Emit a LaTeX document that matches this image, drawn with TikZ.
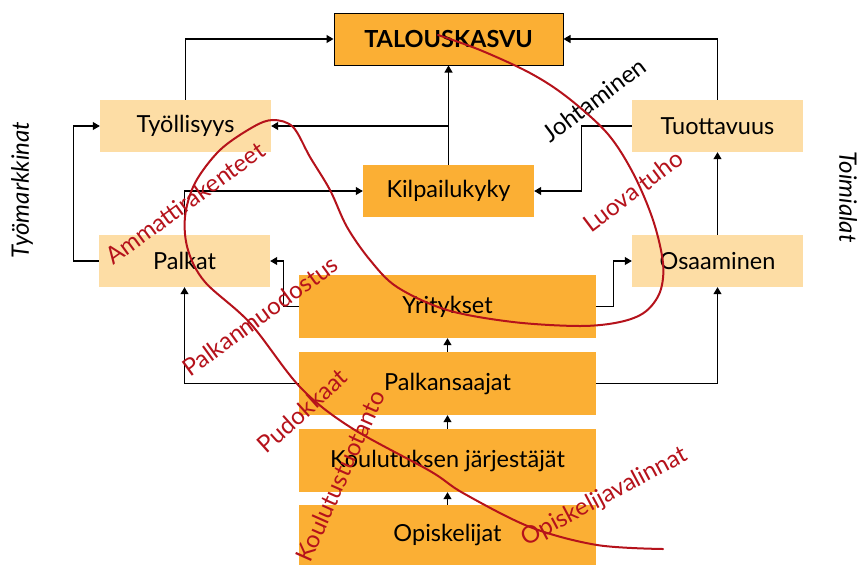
\documentclass[tikz,border=0pt]{standalone}
\usepackage{fontspec}
\setmainfont{Lato}
\usetikzlibrary{arrows.meta}
\definecolor{orng}{HTML}{FBAF34}
\definecolor{lite}{HTML}{FDDDA5}
\definecolor{dred}{HTML}{B5121B}
\tikzset{
  boxbase/.style={inner sep=0pt, anchor=center, font=\fontsize{23.5}{27}\selectfont, text=black},
  lightbox/.style={boxbase, fill=lite, minimum width=171pt, minimum height=52pt},
  darkbox/.style={boxbase, fill=orng, minimum width=171pt, minimum height=52pt},
  widebox/.style={boxbase, fill=orng, minimum width=297pt, minimum height=63pt},
  arr/.style={draw=black, line width=1.1pt, -{Triangle[width=8pt,length=7pt]}},
  redlab/.style={text=dred, font=\fontsize{24}{28}\selectfont, inner sep=0pt, anchor=center},
  sidelab/.style={text=black, font=\itshape\fontsize{24}{28}\selectfont, inner sep=0pt, anchor=center}
}
\begin{document}
\begin{tikzpicture}[x=1pt,y=-1pt]
\useasboundingbox (0,0) rectangle (861,565);
% boxes
\node[boxbase, fill=orng, draw=black, line width=1pt, minimum width=229pt, minimum height=52pt, font=\bfseries\fontsize{23.5}{27}\selectfont] (tk) at (448.5,39) {TALOUSKASVU};
\node[lightbox] (ty) at (185.5,126) {Työllisyys};
\node[darkbox] (kil) at (448.5,191) {Kilpailukyky};
\node[lightbox] (tuo) at (717.5,126) {Tuottavuus};
\node[lightbox] (pal) at (184.5,261) {Palkat};
\node[lightbox] (osa) at (717.5,261) {Osaaminen};
\node[widebox] (yri) at (447.5,306.5) {Yritykset};
\node[widebox] (pks) at (447.5,383.5) {Palkansaajat};
\node[widebox] (kou) at (447.5,460.5) {Koulutuksen järjestäjät};
\node[widebox, minimum height=60pt] (opi) at (447.5,535) {Opiskelijat};
% connectors
\draw[arr] (ty.north) |- (tk.west);
\draw[arr] (tuo.north) |- (tk.east);
\draw[arr] (kil.north) -- (tk.south);
\coordinate (kb) at (kil.north |- ty.east);
\draw[arr] (kb) -- (ty.east);
\draw[arr] (tuo.west) -- ++(-50,0) |- (kil.east);
\draw[arr] (pal.north) |- (kil.west);
\draw[arr] (pal.west) -- ++(-25,0) |- (ty.west);
\draw[arr] (yri.west) -- ++(-15,0) |- (pal.east);
\draw[arr] (yri.east) -- ++(17,0) |- (osa.west);
\draw[arr] (pks.west) -| (pal.south);
\draw[arr] (pks.east) -| (osa.south);
\draw[arr] (osa.north) -- (tuo.south);
\draw[arr] (pks.north) -- (yri.south);
\draw[arr] (kou.north) -- (pks.south);
\draw[arr] (opi.north) -- (kou.south);
% side labels
\node[sidelab, rotate=90] (tm) at (22,190) {Työmarkkinat};
\node[sidelab, rotate=-90] (ti) at (848,197) {Toimialat};
\node[redlab, text=black, rotate=37] (joh) at (594,100) {Johtaminen};
% red curve
\draw[dred, line width=2pt, line cap=round] plot[smooth, tension=0.55] coordinates {
 (438,35) (480,50) (530,73) (567,97) (607,133) (633,173) (653,220) (663,263) (660,292) (645,312) (620,322) (580,326) (513,322) (447,310) (397,287) (370,260) (347,227) (330,190) (310,157) (293,127) (273,120) (253,127) (220,150) (195,183) (185,217) (188,250) (205,282) (250,323) (300,387) (350,427) (430,471) (463,493) (530,527) (597,545) (663,549)};
% red labels
\node[redlab, rotate=36] (am) at (185,203) {Ammattirakenteet};
\node[redlab, rotate=37] (lt) at (633,191) {Luova tuho};
\node[redlab, rotate=36] (pm) at (260,316) {Palkanmuodostus};
\node[redlab, rotate=42] (pu) at (302,411) {Pudokkaat};
\node[redlab, rotate=66] (kt) at (340,476) {Koulutustuotanto};
\node[redlab, rotate=28] (ov) at (605,497) {Opiskelijavalinnat};
\end{tikzpicture}
\end{document}
